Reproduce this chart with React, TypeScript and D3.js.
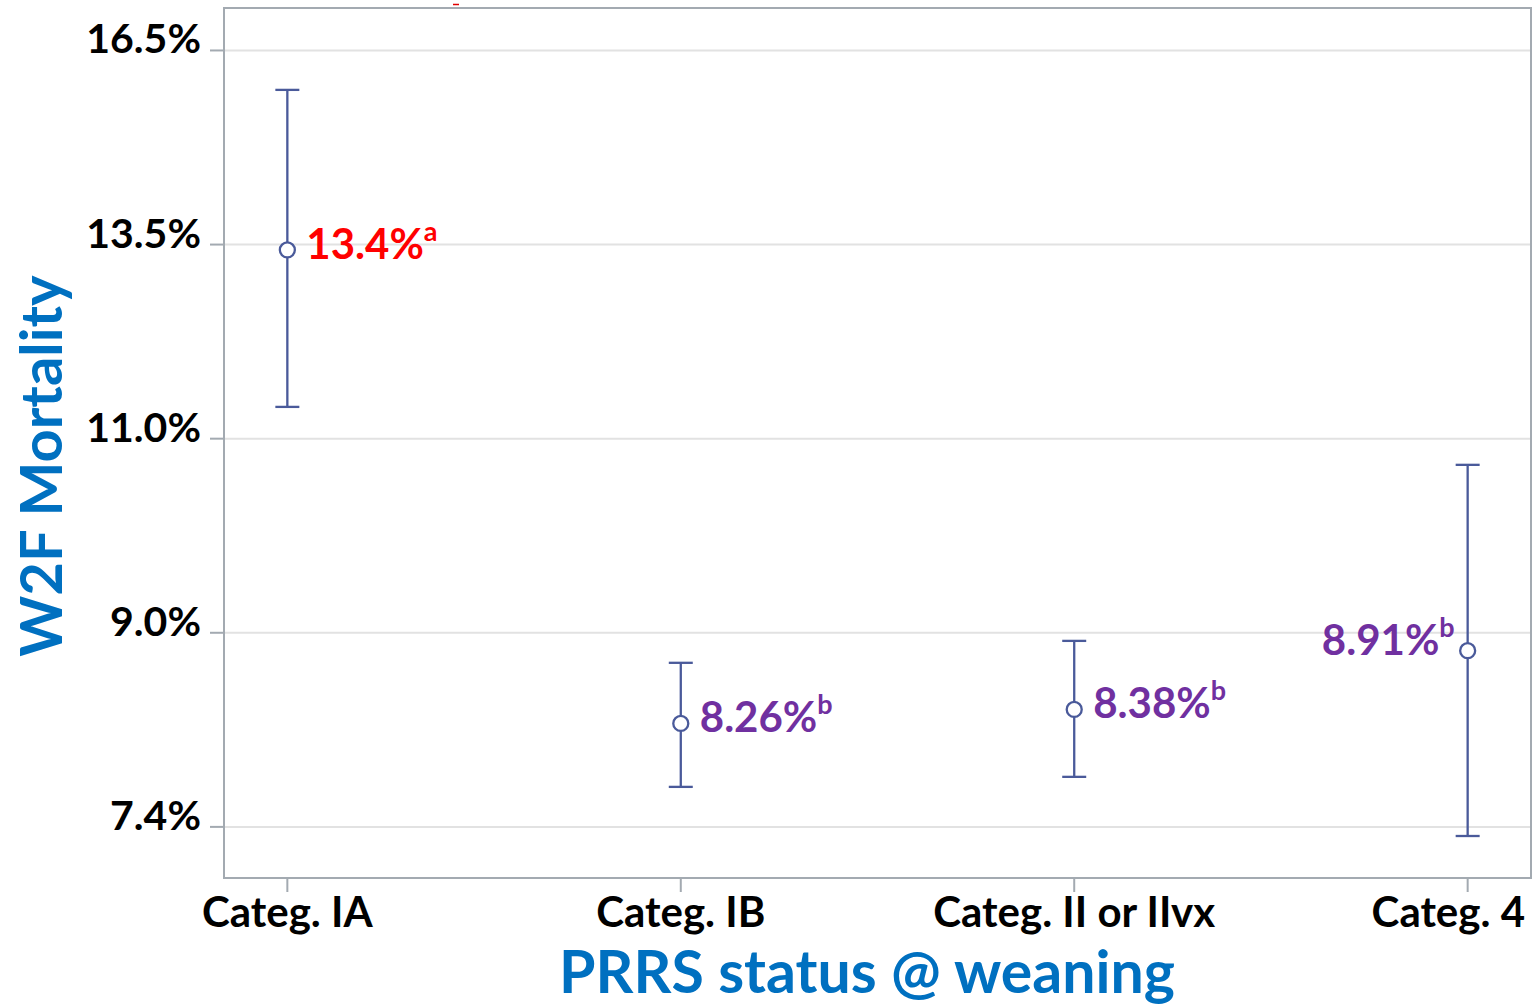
import React from "react";
import * as d3 from "d3";

const categories = ["Categ. IA", "Categ. IB", "Categ. II or IIvx", "Categ. 4"];
const means = [13.39, 8.22, 8.34, 8.86];
const lowerCI = [11.39, 7.7, 7.78, 7.32];
const upperCI = [15.79, 8.75, 8.95, 10.73];
const valueLabels = ["13.4%", "8.26%", "8.38%", "8.91%"];
const letters = ["a", "b", "b", "b"];
const tickLogs = [2.0, 2.2, 2.4, 2.6, 2.8];
const tickLabels = ["7.4%", "9.0%", "11.0%", "13.5%", "16.5%"];
const yDomain = [7.01, 17.18];

const W = 1534;
const H = 1006;
const plot = { left: 224, right: 1531, top: 8, bottom: 878 };
const FONT = "Lato, 'Open Sans', sans-serif";
const BAR = "#4a5a9a";
const FRAME = "#a3aab1";

export default function App() {
  const y = d3.scaleLog().domain(yDomain).range([plot.bottom, plot.top]);
  const x = d3
    .scalePoint<string>()
    .domain(categories)
    .range([plot.left, plot.right])
    .padding(0.161);
  const ticks = tickLogs.map((l, i) => ({ v: Math.exp(l), label: tickLabels[i] }));

  return (
    <svg
      width={W}
      height={H}
      viewBox={`0 0 ${W} ${H}`}
      style={{ position: "absolute", left: 0, top: 0, background: "#fff" }}
      fontFamily={FONT}
    >
      <rect x={0} y={0} width={W} height={H} fill="#fff" />
      {/* small red artifact at top */}
      <line x1={453} x2={459} y1={4.5} y2={4.5} stroke="#e00000" strokeWidth={1.5} />

      {/* gridlines */}
      {ticks.map((t, i) => (
        <line
          key={"g" + i}
          x1={plot.left}
          x2={plot.right}
          y1={y(t.v)}
          y2={y(t.v)}
          stroke="#e2e2e2"
          strokeWidth={2}
        />
      ))}

      {/* frame */}
      <rect
        x={plot.left}
        y={plot.top}
        width={plot.right - plot.left}
        height={plot.bottom - plot.top}
        fill="none"
        stroke={FRAME}
        strokeWidth={2}
      />

      {/* y ticks & labels */}
      {ticks.map((t, i) => (
        <g key={"yt" + i}>
          <line
            x1={plot.left - 14}
            x2={plot.left}
            y1={y(t.v)}
            y2={y(t.v)}
            stroke={FRAME}
            strokeWidth={2}
          />
          <text
            x={201}
            y={y(t.v) + 3}
            textAnchor="end"
            fontSize={41}
            fontWeight={700}
            fill="#000"
          >
            {t.label}
          </text>
        </g>
      ))}

      {/* x ticks & labels */}
      {categories.map((c, i) => {
        const isLast = i === categories.length - 1;
        return (
          <g key={"xt" + i}>
            <line
              x1={x(c)}
              x2={x(c)}
              y1={plot.bottom}
              y2={plot.bottom + 14}
              stroke={FRAME}
              strokeWidth={2}
            />
            <text
              x={isLast ? plot.right - 6 : x(c)}
              y={927}
              textAnchor={isLast ? "end" : "middle"}
              fontSize={42}
              fontWeight={700}
              fill="#000"
            >
              {c}
            </text>
          </g>
        );
      })}

      {/* error bars */}
      {categories.map((c, i) => {
        const cx = x(c) as number;
        return (
          <g key={"eb" + i} stroke={BAR} strokeWidth={2.3} fill="none">
            <line x1={cx} x2={cx} y1={y(upperCI[i])} y2={y(lowerCI[i])} />
            <line x1={cx - 12} x2={cx + 12} y1={y(upperCI[i])} y2={y(upperCI[i])} />
            <line x1={cx - 12} x2={cx + 12} y1={y(lowerCI[i])} y2={y(lowerCI[i])} />
            <circle cx={cx} cy={y(means[i])} r={7.5} fill="#fff" />
          </g>
        );
      })}

      {/* value labels */}
      {categories.map((c, i) => {
        const cx = x(c) as number;
        const isLast = i === categories.length - 1;
        const color = letters[i] === "a" ? "#ff0000" : "#7030a0";
        return (
          <text
            key={"vl" + i}
            x={isLast ? cx - 13 : cx + 19}
            y={y(means[i]) + (isLast ? 4 : 9)}
            textAnchor={isLast ? "end" : "start"}
            fontSize={42}
            fontWeight={700}
            fill={color}
          >
            {valueLabels[i]}
            <tspan dy={-18} fontSize={27}>
              {letters[i]}
            </tspan>
          </text>
        );
      })}

      {/* axis titles */}
      <text
        x={867}
        y={993}
        textAnchor="middle"
        fontSize={59}
        fontWeight={700}
        fill="#0070c0"
      >
        PRRS status @ weaning
      </text>
      <text
        transform={`translate(62,466) rotate(-90)`}
        textAnchor="middle"
        fontSize={58}
        fontWeight={700}
        fill="#0070c0"
      >
        W2F Mortality
      </text>
    </svg>
  );
}
